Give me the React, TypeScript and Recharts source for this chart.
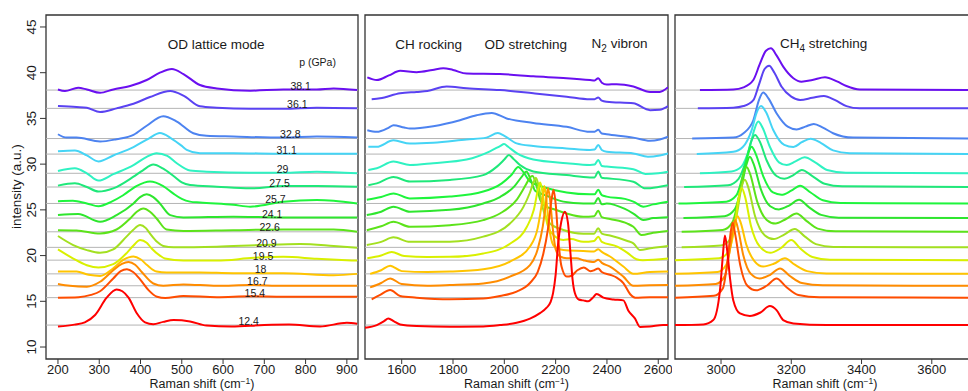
import React from 'react';
import { LineChart, Line, XAxis, YAxis, ReferenceLine, ReferenceArea, ReferenceDot } from 'recharts';

const FONT = '"Liberation Sans", Arial, Helvetica, sans-serif';
type Pt = [number, number];

// pressures (GPa) = vertical offset of each spectrum
const pressures = [12.4, 15.4, 16.7, 18, 19.5, 20.9, 22.6, 24.1, 25.7, 27.5, 29, 31.1, 32.8, 36.1, 38.1];
const pressureLabels = ['12.4', '15.4', '16.7', '18', '19.5', '20.9', '22.6', '24.1', '25.7', '27.5', '29', '31.1', '32.8', '36.1', '38.1'];
// Raman shift where each pressure label sits in the first panel
const labelShift = [662, 677, 683, 691, 697, 705, 713, 719, 727, 737, 744, 754, 763, 780, 788];
const colors = ['#ff0000', '#ff4d00', '#ff8c00', '#ffc400', '#d9f000', '#a3e020', '#5ce31a', '#2ee62e',
  '#1ef53c', '#1fe87a', '#2ff2c2', '#45d4f5', '#4d83f0', '#5a42f2', '#6a0ff0'];

const yTicks = [10, 15, 20, 25, 30, 35, 40, 45];
const latticeTicks = [200, 300, 400, 500, 600, 700, 800, 900];
const odTicks = [1600, 1800, 2000, 2200, 2400, 2600];
const chTicks = [3000, 3200, 3400, 3600];

// intensities above each baseline: OD lattice mode region
const latticeBands: Pt[][] = [
  [[200,-0.15],[240,0.05],[265,0.3],[290,1.1],[318,3.0],[342,3.9],[356,3.7],[371,3.0],[391,1.3],[411,0.3],[431,0.1],[455,0.35],[480,0.55],[520,0.4],[560,-0.05],[620,-0.15],[700,0],[760,0.05],[835,-0.15],[900,0.25],[925,0.15]],
  [[200,0],[250,0.05],[280,0.3],[302,0.7],[334,2.1],[352,2.9],[367,3.1],[382,2.8],[399,2.0],[420,0.8],[440,0.1],[460,-0.05],[504,0.18],[585,0.05],[666,0.15],[746,0.1],[830,0.1],[925,0.1]],
  [[200,0.2],[229,0],[270,-0.1],[302,0.44],[334,1.7],[355,2.4],[371,2.6],[387,2.3],[403,1.5],[431,0.25],[455,0],[504,0.15],[585,0],[666,0.08],[746,0],[925,0]],
  [[200,0.25],[245,0.25],[274,-0.1],[302,-0.22],[334,0.62],[358,1.53],[383,1.9],[400,1.6],[415,1.0],[439,0.25],[463,0.15],[544,0.15],[625,0.08],[746,0.08],[868,-0.15],[925,0]],
  [[200,1.17],[237,0.18],[270,-0.55],[298,-0.8],[334,-0.44],[367,0.8],[383,1.6],[399,2.2],[415,1.9],[427,1.28],[447,0.5],[459,0.18],[504,-0.05],[585,-0.05],[674,0.25],[746,0.36],[827,0.15],[925,-0.05]],
  [[200,1.24],[237,0.25],[270,-0.3],[302,-0.6],[334,-0.22],[366,1.17],[382,1.9],[399,2.45],[413,2.1],[423,1.5],[440,0.6],[455,0.15],[480,0],[585,0.07],[690,0.25],[787,0.37],[868,0.15],[925,-0.05]],
  [[200,0.18],[245,0.15],[302,-0.18],[342,0.25],[375,1.46],[391,2.2],[407,2.55],[423,2.2],[439,1.46],[463,0.25],[504,0.1],[625,0.18],[746,0.25],[868,0.25],[925,0]],
  [[200,0.33],[249,0.44],[302,-0.4],[342,0.33],[383,1.6],[399,2.3],[415,2.6],[431,2.3],[447,1.6],[472,0.33],[504,0.07],[625,0.15],[746,0.07],[868,0.07],[925,0.07]],
  [[200,0.25],[236,0.3],[270,0],[298,-0.3],[330,0.2],[358,0.9],[390,1.9],[423,2.4],[455,1.9],[479,1.1],[500,0.5],[520,0.2],[544,0.1],[625,-0.15],[666,-0.35],[746,0.2],[827,0.38],[868,0.3],[925,0]],
  [[200,0.15],[241,0.4],[270,0],[298,-0.5],[334,-0.15],[383,1.13],[405,1.8],[431,2.45],[455,2.0],[480,1.2],[500,0.5],[520,0.22],[585,0.04],[666,-0.15],[746,0.1],[827,0.1],[925,0.04]],
  [[200,0.25],[241,0.55],[270,0],[298,-0.8],[334,-0.1],[383,0.9],[415,1.8],[439,2.2],[465,1.9],[488,1.1],[520,0.3],[560,0.18],[666,0.07],[746,0.07],[827,0.18],[925,0]],
  [[200,0.3],[241,0.4],[270,-0.15],[298,-0.8],[334,-0.15],[383,0.77],[420,1.7],[447,2.3],[475,1.7],[500,0.9],[512,0.47],[544,0.1],[625,0.1],[746,0.04],[925,0.04]],
  [[200,0.47],[221,0.1],[245,0.1],[302,-0.33],[342,-0.07],[383,0.4],[415,1.4],[455,2.45],[488,1.86],[528,0.58],[560,0.3],[625,0.22],[746,0.1],[827,0.22],[925,0.1]],
  [[200,0.25],[245,0.15],[270,0.07],[302,-0.4],[342,0],[383,0.5],[423,1.24],[472,1.9],[504,1.4],[544,0.22],[585,0.07],[666,-0.04],[746,-0.04],[827,0.07],[925,0]],
  [[200,0.07],[217,-0.1],[249,0.25],[270,0.07],[302,-0.3],[334,0.07],[375,0.44],[415,1.1],[447,1.9],[476,2.3],[504,1.75],[544,0.55],[585,0.18],[666,-0.07],[746,0.07],[827,0.07],[868,0.18],[925,0]],
];

// CH rocking / OD stretching / N2 vibron region
const odBands: Pt[][] = [
  [[1457,-0.3],[1503,0],[1530,0.4],[1548,0.73],[1570,0.4],[1594,0.07],[1658,-0.1],[1788,-0.18],[1918,-0.15],[1983,0],[2048,0.25],[2100,0.7],[2139,1.3],[2165,1.9],[2180,2.5],[2190,3.5],[2200,5.5],[2210,9.0],[2222,11.3],[2236,12.4],[2248,11.2],[2258,7.8],[2266,5.0],[2275,3.5],[2290,2.8],[2308,2.7],[2327,2.6],[2345,3.0],[2360,3.4],[2386,3.0],[2425,2.8],[2464,2.7],[2483,1.6],[2509,0.73],[2529,-0.2],[2567,-0.15],[2619,0],[2638,0]],
  [[1483,-0.18],[1516,0.3],[1555,0.84],[1594,0.18],[1658,0],[1788,-0.18],[1918,-0.1],[1983,0.18],[2048,0.66],[2100,1.6],[2130,2.8],[2152,4.8],[2170,7.5],[2183,10.5],[2192,11.8],[2201,10.0],[2210,6.5],[2223,3.4],[2243,2.3],[2262,2.4],[2285,3.0],[2310,3.3],[2335,2.9],[2350,3.0],[2366,3.2],[2380,2.8],[2412,2.5],[2438,2.2],[2464,1.6],[2490,0.4],[2510,0],[2567,0.05],[2638,0.04]],
  [[1477,-0.18],[1520,0.3],[1555,0.8],[1600,0.18],[1700,0],[1788,0.07],[1918,0.25],[2022,1.0],[2100,2.26],[2130,4.0],[2150,6.5],[2162,9.0],[2170,10.7],[2178,9.5],[2188,6.5],[2200,4.0],[2217,3.2],[2243,3.0],[2282,3.0],[2308,2.8],[2350,2.6],[2366,2.85],[2380,2.5],[2412,2.1],[2464,1.0],[2503,0],[2567,0.05],[2638,0.07]],
  [[1477,0],[1520,0.4],[1555,0.9],[1600,0.3],[1700,0.2],[1788,0.25],[1918,0.5],[2022,1.35],[2100,3.0],[2130,5.0],[2148,8.0],[2156,9.6],[2165,7.8],[2178,4.5],[2195,3.0],[2230,2.6],[2308,2.5],[2350,2.45],[2366,2.7],[2380,2.4],[2412,1.9],[2464,0.8],[2503,0],[2567,0.2],[2638,0.25]],
  [[1466,0.2],[1520,0.5],[1561,0.9],[1610,0.45],[1700,0.35],[1788,0.36],[1918,0.73],[2022,1.8],[2087,3.6],[2115,5.5],[2132,7.8],[2140,8.5],[2150,7.2],[2163,4.5],[2183,3.0],[2230,2.2],[2260,2.3],[2308,2.0],[2350,2.1],[2366,2.55],[2380,2.0],[2438,1.5],[2480,0.8],[2515,0.1],[2540,0],[2638,0.18]],
  [[1464,0.25],[1520,0.6],[1568,1.1],[1632,0.6],[1788,0.62],[1918,1.17],[2022,2.6],[2074,4.4],[2100,6.0],[2115,7.2],[2123,7.6],[2133,6.8],[2150,4.3],[2178,2.6],[2230,1.9],[2308,1.5],[2350,1.5],[2366,2.1],[2380,1.5],[2412,1.3],[2480,0.7],[2503,0.44],[2529,-0.3],[2570,-0.1],[2638,0.15]],
  [[1464,0.18],[1520,0.6],[1568,1.1],[1632,0.55],[1788,0.73],[1918,1.28],[1983,2.0],[2048,3.5],[2085,5.2],[2102,6.0],[2110,6.1],[2122,5.4],[2140,3.5],[2158,2.8],[2191,2.5],[2243,2.0],[2308,1.64],[2350,1.7],[2366,2.3],[2380,1.6],[2412,1.4],[2480,0.9],[2503,0.55],[2535,-0.36],[2580,-0.1],[2638,0.1]],
  [[1464,0.33],[1520,0.7],[1568,1.24],[1632,0.7],[1788,0.9],[1918,1.6],[1983,2.3],[2040,3.5],[2070,4.6],[2086,5.1],[2100,4.4],[2120,3.0],[2152,2.6],[2230,1.8],[2308,1.6],[2350,1.6],[2366,2.2],[2380,1.5],[2399,1.6],[2470,1.0],[2503,0.5],[2542,-0.2],[2580,0],[2638,0.1]],
  [[1464,0.4],[1520,0.7],[1568,1.1],[1632,0.55],[1788,0.75],[1918,1.3],[1990,2.2],[2030,3.2],[2054,4.0],[2075,3.4],[2100,2.4],[2152,1.8],[2243,1.2],[2334,1.0],[2352,1.0],[2366,1.5],[2380,0.9],[2399,0.75],[2470,0.5],[2503,0.2],[2542,-0.35],[2580,-0.1],[2638,0.2]],
  [[1470,0.2],[1503,0.4],[1568,1.1],[1632,0.6],[1788,0.77],[1918,1.3],[1970,2.2],[2000,3.0],[2018,3.5],[2035,3.1],[2061,2.4],[2113,1.7],[2243,1.3],[2334,1.05],[2352,1.05],[2366,1.7],[2380,1.0],[2399,0.95],[2503,0.58],[2550,-0.15],[2600,0],[2638,0.2]],
  [[1470,0.36],[1503,0.55],[1568,1.28],[1632,0.9],[1723,1.1],[1853,1.5],[1944,2.4],[1985,3.0],[1999,3.2],[2015,2.9],[2048,2.2],[2113,1.5],[2243,1.1],[2334,0.9],[2352,0.95],[2366,1.46],[2380,0.8],[2399,0.73],[2503,0.45],[2550,-0.07],[2600,0],[2638,0.18]],
  [[1470,0.8],[1503,0.8],[1568,1.5],[1632,1.15],[1723,1.24],[1853,1.6],[1930,1.8],[1975,2.3],[2000,2.0],[2048,1.17],[2113,0.88],[2243,0.62],[2334,0.45],[2352,0.5],[2366,1.0],[2380,0.45],[2399,0.25],[2503,0.07],[2560,-0.3],[2606,-0.15],[2638,0.07]],
  [[1466,0.9],[1503,0.73],[1550,1.2],[1568,1.46],[1610,1.2],[1632,1.1],[1723,1.35],[1827,2.0],[1892,2.55],[1951,2.8],[2009,2.2],[2113,1.7],[2243,1.28],[2334,0.73],[2352,0.75],[2366,0.95],[2380,0.55],[2399,0.47],[2503,0.1],[2568,-0.25],[2606,-0.1],[2638,0.2]],
  [[1483,1.0],[1516,1.1],[1594,1.65],[1658,1.8],[1700,1.9],[1775,2.4],[1853,2.2],[1983,2.0],[2113,1.65],[2243,1.28],[2334,1.0],[2352,1.0],[2366,1.2],[2380,0.85],[2399,0.73],[2503,0.55],[2568,-0.2],[2606,-0.15],[2638,0.25]],
  [[1466,1.39],[1503,1.1],[1550,1.6],[1594,2.1],[1658,1.95],[1720,2.2],[1762,2.4],[1800,2.2],[1853,1.8],[1983,1.75],[2113,1.5],[2243,1.3],[2334,1.1],[2352,1.05],[2366,1.3],[2380,0.8],[2399,0.6],[2438,0.65],[2503,0.4],[2568,-0.2],[2606,-0.2],[2638,0.3]],
];

// CH4 stretching region
const chBands: Pt[][] = [
  [[2869,0],[2950,0.07],[2978,0.55],[2997,3.8],[3005,7.5],[3011,9.8],[3018,8.0],[3026,5.0],[3035,2.7],[3054,1.28],[3082,1.0],[3111,1.35],[3139,2.08],[3158,1.64],[3177,0.55],[3206,0.18],[3300,0],[3723,0]],
  [[2869,0],[2980,0.2],[3005,1.0],[3020,4.5],[3027,7.0],[3033,8.2],[3040,7.0],[3055,3.5],[3075,1.3],[3100,0.8],[3130,1.3],[3158,2.1],[3185,1.2],[3220,0.3],[3280,0.05],[3723,0]],
  [[2869,0],[2985,0.2],[3010,1.0],[3026,4.2],[3034,6.3],[3040,7.2],[3048,6.3],[3063,3.4],[3085,1.3],[3110,0.8],[3140,1.2],[3168,1.9],[3195,1.1],[3230,0.3],[3290,0.05],[3723,0]],
  [[2869,0],[2990,0.2],[3015,1.0],[3032,4.0],[3040,5.6],[3047,6.3],[3056,5.6],[3072,3.2],[3095,1.4],[3120,0.8],[3150,1.1],[3182,1.7],[3210,1.0],[3245,0.3],[3300,0.05],[3723,0]],
  [[2869,0],[2995,0.2],[3022,1.0],[3040,4.0],[3050,6.8],[3059,7.9],[3068,7.0],[3085,3.8],[3110,1.5],[3140,0.8],[3170,1.3],[3200,2.2],[3225,1.3],[3260,0.35],[3310,0.05],[3723,0]],
  [[2888,0],[3000,0.2],[3028,1.0],[3046,3.8],[3058,6.5],[3068,7.4],[3078,6.5],[3097,3.4],[3125,1.3],[3150,0.9],[3180,1.4],[3210,2.0],[3238,1.2],[3270,0.35],[3320,0.05],[3723,0]],
  [[2888,0],[3005,0.2],[3032,1.0],[3050,3.6],[3063,6.2],[3073,7.1],[3083,6.3],[3103,3.3],[3130,1.3],[3155,0.9],[3185,1.4],[3215,2.0],[3243,1.2],[3275,0.35],[3325,0.05],[3723,0]],
  [[2893,0],[3010,0.2],[3040,1.0],[3058,3.4],[3072,5.8],[3082,6.7],[3093,5.9],[3113,3.2],[3140,1.3],[3165,0.95],[3195,1.4],[3222,2.0],[3250,1.2],[3285,0.35],[3335,0.05],[3723,0]],
  [[2879,0],[3015,0.2],[3044,0.9],[3063,3.2],[3077,5.4],[3087,6.2],[3099,5.4],[3120,3.0],[3148,1.2],[3172,0.95],[3200,1.4],[3225,1.95],[3255,1.2],[3290,0.35],[3340,0.05],[3723,0]],
  [[2895,0],[3020,0.2],[3050,0.9],[3072,3.0],[3086,5.0],[3097,5.7],[3110,5.0],[3130,2.9],[3158,1.2],[3180,0.9],[3206,1.3],[3230,1.86],[3260,1.2],[3295,0.36],[3345,0.07],[3723,0]],
  [[2940,0],[3030,0.2],[3058,0.73],[3082,2.9],[3095,4.8],[3106,5.65],[3118,5.0],[3139,2.9],[3165,1.2],[3187,0.9],[3212,1.3],[3238,1.75],[3268,1.2],[3302,0.36],[3355,0.07],[3723,0]],
  [[2931,0],[3035,0.25],[3062,0.77],[3087,2.6],[3102,4.6],[3114,5.26],[3128,4.6],[3149,2.6],[3180,1.0],[3206,0.77],[3230,1.3],[3255,1.68],[3285,1.2],[3319,0.4],[3366,0.1],[3723,0]],
  [[2918,0],[3035,0.1],[3064,0.58],[3092,2.0],[3108,4.2],[3120,5.03],[3135,4.4],[3158,2.77],[3190,1.3],[3215,1.0],[3240,1.3],[3264,1.6],[3290,1.2],[3319,0.58],[3376,0.1],[3723,0]],
  [[2934,0],[3035,0.07],[3064,0.25],[3092,0.9],[3108,2.6],[3124,4.3],[3137,4.67],[3152,3.9],[3172,2.4],[3200,1.28],[3225,0.92],[3260,1.15],[3293,1.36],[3325,0.9],[3357,0.25],[3395,0],[3723,0]],
  [[2940,0],[3035,0.07],[3064,0.3],[3092,1.1],[3110,2.8],[3128,4.3],[3142,4.57],[3158,3.8],[3177,2.56],[3206,1.3],[3229,0.92],[3260,1.1],[3296,1.4],[3330,0.95],[3357,0.45],[3395,0.07],[3723,0]],
];

const Y_DOMAIN: [number, number] = [8.69, 46.31];
const LAT_DOMAIN: [number, number] = [171, 927];
const OD_DOMAIN: [number, number] = [1457, 2638];
const CH_DOMAIN: [number, number] = [2869, 3723];

const toSeries = (bands: Pt[][]) =>
  pressures.map((p, i) => bands[i].map(([x, v]) => ({ x, y: p + v })));

const latticeSeries = toSeries(latticeBands);
const odSeries = toSeries(odBands);
const chSeries = toSeries(chBands);

const textShape = (content: React.ReactNode, size = 13.5, anchor: 'middle' | 'start' = 'middle', rotate = false) =>
  (p: any) => (
    <text
      x={p.cx}
      y={p.cy}
      textAnchor={anchor}
      fontSize={size}
      fontFamily={FONT}
      fill="#1a1a1a"
      transform={rotate ? `rotate(-90 ${p.cx} ${p.cy})` : undefined}
    >
      {content}
    </text>
  );

const ramanTitle = (
  <>
    Raman shift (cm<tspan dy={-4} fontSize={8.5}>−1</tspan><tspan dy={4}>)</tspan>
  </>
);

const YTick = (props: any) => {
  const { x, y, payload } = props;
  return (
    <text x={x} y={y} transform={`rotate(-90 ${x} ${y})`} textAnchor="middle" fontSize={13.5} fontFamily={FONT} fill="#1a1a1a">
      {payload.value}
    </text>
  );
};

function panel(
  key: string,
  left: number,
  width: number,
  margin: { left: number; right: number },
  xDomain: [number, number],
  xTicks: number[],
  series: { x: number; y: number }[][],
  extras: React.ReactNode[],
  withY: boolean,
) {
  const order = pressures.map((_, i) => pressures.length - 1 - i);
  return (
    <div key={key} style={{ position: 'absolute', left, top: 0 }}>
      <LineChart width={width} height={391} margin={{ top: 15, bottom: 0, left: margin.left, right: margin.right }}>
        <XAxis
          type="number"
          dataKey="x"
          domain={xDomain}
          ticks={xTicks}
          interval={0}
          allowDataOverflow
          height={32}
          axisLine={false}
          tickSize={5}
          tickMargin={0.5}
          tickLine={{ stroke: '#333' }}
          tick={{ fontSize: 13, fill: '#1a1a1a', fontFamily: FONT }}
        />
        {withY ? (
          <YAxis
            type="number"
            domain={Y_DOMAIN}
            ticks={yTicks}
            interval={0}
            allowDataOverflow
            width={46}
            axisLine={false}
            tickSize={6}
            tickMargin={3.5}
            tickLine={{ stroke: '#333' }}
            tick={YTick}
          />
        ) : (
          <YAxis type="number" domain={Y_DOMAIN} allowDataOverflow hide />
        )}
        {pressures.map((p) => (
          <ReferenceLine key={`b${p}`} y={p} stroke="#b4b4b4" strokeWidth={1} ifOverflow="visible" />
        ))}
        {order.map((i) => (
          <Line
            key={`l${i}`}
            data={series[i]}
            dataKey="y"
            type="monotone"
            stroke={colors[i]}
            strokeWidth={2}
            dot={false}
            isAnimationActive={false}
          />
        ))}
        <ReferenceArea
          x1={xDomain[0]}
          x2={xDomain[1]}
          y1={Y_DOMAIN[0]}
          y2={Y_DOMAIN[1]}
          fill="none"
          fillOpacity={0}
          stroke="#333"
          strokeWidth={1.3}
          ifOverflow="visible"
        />
        <ReferenceDot
          x={(xDomain[0] + xDomain[1]) / 2}
          y={5.49}
          r={0}
          ifOverflow="visible"
          shape={textShape(ramanTitle, 12.5)}
        />
        {extras}
      </LineChart>
    </div>
  );
}

export default function App() {
  const latticeExtras = [
    <ReferenceDot key="t1" x={583} y={42.59} r={0} ifOverflow="visible" shape={textShape('OD lattice mode')} />,
    <ReferenceDot key="t2" x={829} y={40.73} r={0} ifOverflow="visible" shape={textShape('p (GPa)', 10.5)} />,
    <ReferenceDot key="yt" x={111.6} y={27.55} r={0} ifOverflow="visible" shape={textShape('intensity (a.u.)', 13.5, 'middle', true)} />,
    ...pressures.map((p, i) => (
      <ReferenceDot key={`pl${i}`} x={labelShift[i]} y={p + 0.05} r={0} ifOverflow="visible" shape={textShape(pressureLabels[i], 10.5)} />
    )),
  ];
  const odExtras = [
    <ReferenceDot key="a1" x={1705} y={42.59} r={0} ifOverflow="visible" shape={textShape('CH rocking')} />,
    <ReferenceDot key="a2" x={2084} y={42.59} r={0} ifOverflow="visible" shape={textShape('OD stretching')} />,
    <ReferenceDot
      key="a3"
      x={2449}
      y={42.7}
      r={0}
      ifOverflow="visible"
      shape={textShape(<>N<tspan dy={4} fontSize={10}>2</tspan><tspan dy={-4}> vibron</tspan></>)}
    />,
  ];
  const chExtras = [
    <ReferenceDot
      key="c1"
      x={3292}
      y={42.7}
      r={0}
      ifOverflow="visible"
      shape={textShape(<>CH<tspan dy={4} fontSize={10}>4</tspan><tspan dy={-4}> stretching</tspan></>)}
    />,
  ];
  return (
    <div style={{ position: 'fixed', left: 0, top: 0, width: 968, height: 391, overflow: 'hidden', background: '#fff', fontFamily: FONT }}>
      {panel('p1', 0, 362, { left: 0, right: 4 }, LAT_DOMAIN, latticeTicks, latticeSeries, latticeExtras, true)}
      {panel('p2', 362, 310, { left: 3, right: 4 }, OD_DOMAIN, odTicks, odSeries, odExtras, false)}
      {panel('p3', 671, 310, { left: 4, right: 6 }, CH_DOMAIN, chTicks, chSeries, chExtras, false)}
    </div>
  );
}
